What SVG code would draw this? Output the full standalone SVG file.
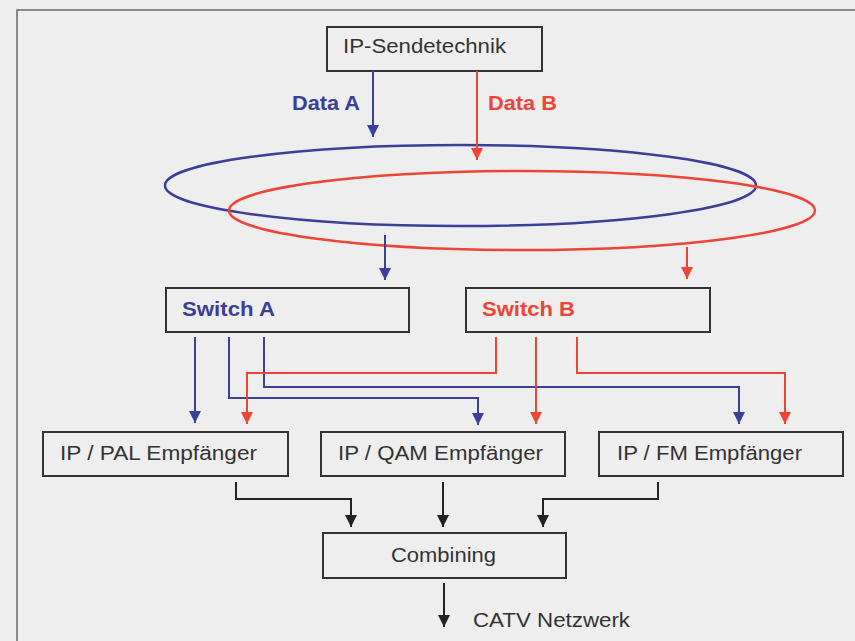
<svg xmlns="http://www.w3.org/2000/svg" width="855" height="641" viewBox="0 0 855 641">
  <style>
    .box { fill: none; stroke: #333333; stroke-width: 2; }
    .txt { font-family: "Liberation Sans", Arial, sans-serif; font-size: 20.5px; fill: #333333; }
    .lbl { font-family: "Liberation Sans", Arial, sans-serif; font-size: 20.5px; font-weight: bold; }
    .blue { stroke: #3b3f98; }
    .red { stroke: #ee4435; }
    .blk { stroke: #222222; }
    .con { fill: none; stroke-width: 2; }
    .ring { fill: none; stroke-width: 2.5; }
  </style>
  <defs>
    <marker id="ah-blue" viewBox="0 0 12 12" refX="12" refY="6" markerWidth="12" markerHeight="12" markerUnits="userSpaceOnUse" orient="auto">
      <path d="M0,0 L12,6 L0,12 z" fill="#3b3f98"/>
    </marker>
    <marker id="ah-red" viewBox="0 0 12 12" refX="12" refY="6" markerWidth="12" markerHeight="12" markerUnits="userSpaceOnUse" orient="auto">
      <path d="M0,0 L12,6 L0,12 z" fill="#ee4435"/>
    </marker>
    <marker id="ah-blk" viewBox="0 0 12 12" refX="12" refY="6" markerWidth="12" markerHeight="12" markerUnits="userSpaceOnUse" orient="auto">
      <path d="M0,0 L12,6 L0,12 z" fill="#222222"/>
    </marker>
  </defs>

  <rect x="0" y="0" width="855" height="641" fill="#eeeeee"/>
  <path d="M17,641 V10 H855" fill="none" stroke="#6a6a6a" stroke-width="1.5"/>

  <g id="sender">
    <rect class="box" x="327" y="27" width="215" height="44"/>
    <text class="txt" x="343" y="53" textLength="163" lengthAdjust="spacingAndGlyphs">IP-Sendetechnik</text>
  </g>

  <g id="net-a">
    <ellipse class="ring blue" cx="460.5" cy="185.5" rx="295.5" ry="40.5"/>
  </g>
  <g id="net-b">
    <ellipse class="ring red" cx="522" cy="210.5" rx="293" ry="39.5"/>
  </g>

  <g id="switch-a">
    <rect class="box" x="166" y="288" width="243" height="44"/>
    <text class="lbl" x="182" y="316" fill="#3b3f98" textLength="93" lengthAdjust="spacingAndGlyphs">Switch A</text>
  </g>
  <g id="switch-b">
    <rect class="box" x="466" y="288" width="244" height="44"/>
    <text class="lbl" x="482" y="316" fill="#ee4435" textLength="93" lengthAdjust="spacingAndGlyphs">Switch B</text>
  </g>

  <g id="pal">
    <rect class="box" x="43" y="432" width="245" height="44"/>
    <text class="txt" x="60" y="460" textLength="197" lengthAdjust="spacingAndGlyphs">IP / PAL Empfänger</text>
  </g>
  <g id="qam">
    <rect class="box" x="321" y="432" width="244" height="44"/>
    <text class="txt" x="338" y="460" textLength="205" lengthAdjust="spacingAndGlyphs">IP / QAM Empfänger</text>
  </g>
  <g id="fm">
    <rect class="box" x="599" y="432" width="244" height="44"/>
    <text class="txt" x="617" y="460" textLength="185" lengthAdjust="spacingAndGlyphs">IP / FM Empfänger</text>
  </g>

  <g id="combining">
    <rect class="box" x="323" y="533" width="243" height="45"/>
    <text class="txt" x="391" y="562" textLength="105" lengthAdjust="spacingAndGlyphs">Combining</text>
  </g>

  <g id="connectors">
    <g class="con blue">
      <path d="M373,71 V137" marker-end="url(#ah-blue)"/>
      <path d="M385,235 V280" marker-end="url(#ah-blue)"/>
      <path d="M195,337 V423" marker-end="url(#ah-blue)"/>
      <path d="M229,337 V398 H478 V425" marker-end="url(#ah-blue)"/>
      <path d="M264,337 V387 H739 V424" marker-end="url(#ah-blue)"/>
    </g>
    <g class="con red">
      <path d="M477,71 V160" marker-end="url(#ah-red)"/>
      <path d="M687,247 V279" marker-end="url(#ah-red)"/>
      <path d="M496,337 V373 H247 V424" marker-end="url(#ah-red)"/>
      <path d="M536,337 V424" marker-end="url(#ah-red)"/>
      <path d="M577,337 V373 H785 V424" marker-end="url(#ah-red)"/>
    </g>
    <g class="con blk">
      <path d="M236,482 V499 H351 V527" marker-end="url(#ah-blk)"/>
      <path d="M443,482 V527" marker-end="url(#ah-blk)"/>
      <path d="M658,482 V499 H543 V527" marker-end="url(#ah-blk)"/>
      <path d="M444,583 V627" marker-end="url(#ah-blk)"/>
    </g>
    <text class="lbl" x="360" y="110" fill="#3b3f98" text-anchor="end" textLength="68" lengthAdjust="spacingAndGlyphs">Data A</text>
    <text class="lbl" x="488" y="110" fill="#ee4435" textLength="69" lengthAdjust="spacingAndGlyphs">Data B</text>
    <text class="txt" x="473" y="627" textLength="157" lengthAdjust="spacingAndGlyphs">CATV Netzwerk</text>
  </g>
</svg>
